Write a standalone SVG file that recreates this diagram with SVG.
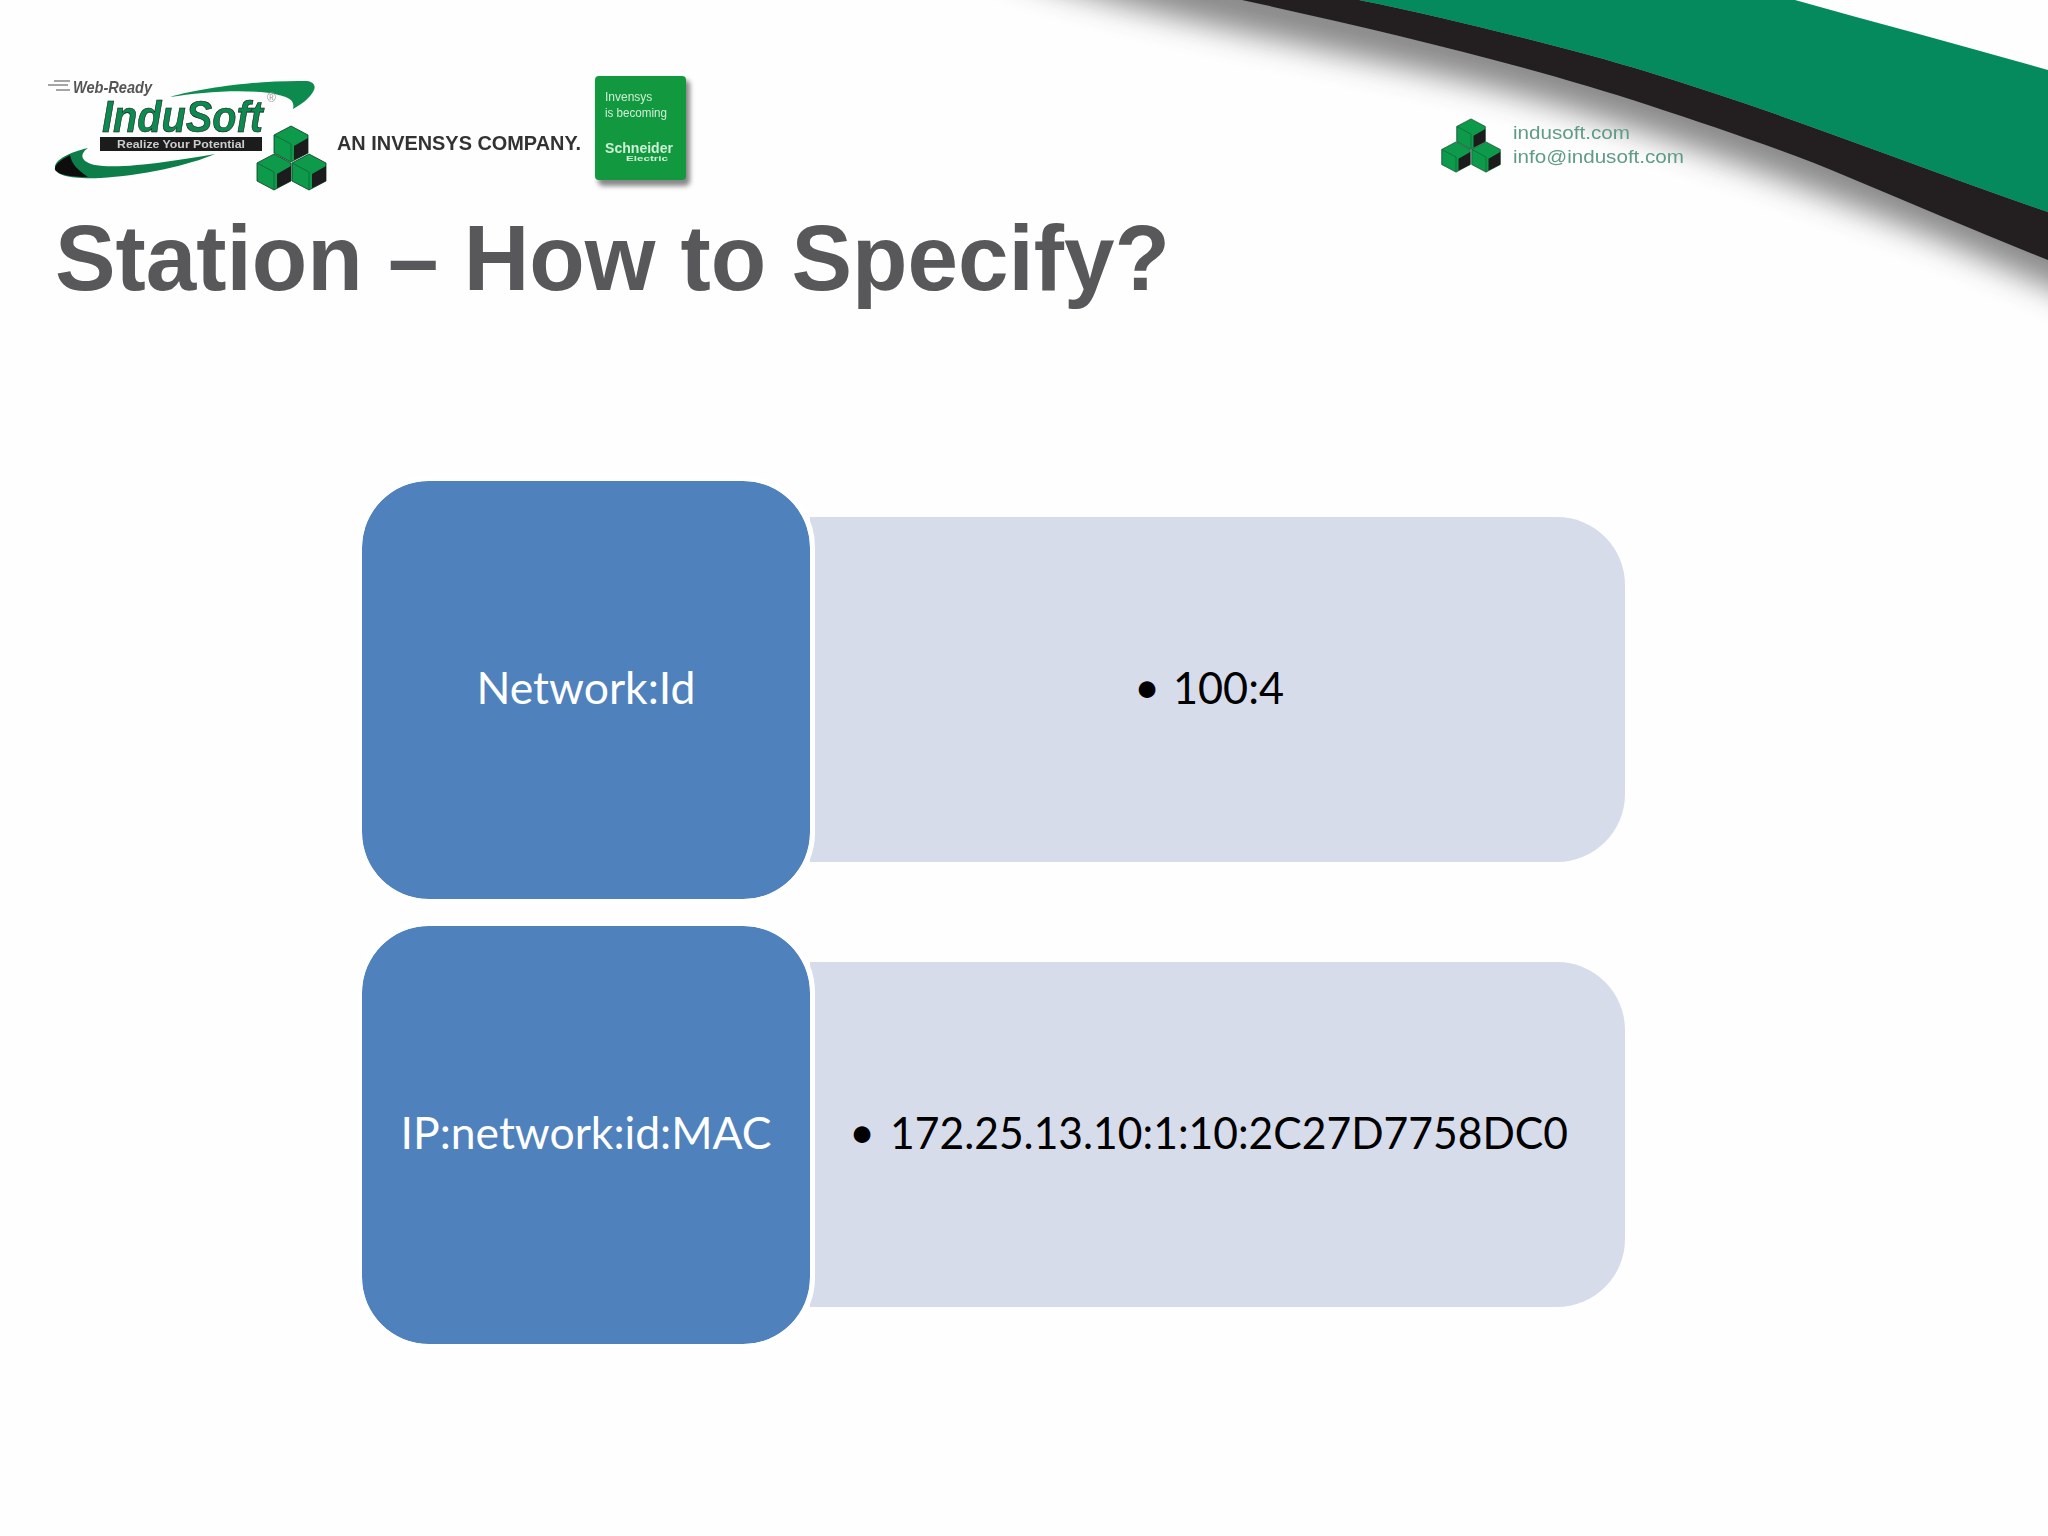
<svg xmlns="http://www.w3.org/2000/svg" width="2048" height="1536" viewBox="0 0 2048 1536">
<style>
.lbl{font-family:"Lato","Open Sans",sans-serif;font-size:45px}
.w{fill:#fff;text-anchor:middle}
.k{fill:#000}
.blue{fill:#4f81bd}
.pale{fill:#d7dcea}
.gap{fill:none;stroke:#fff;stroke-width:5}
.sans{font-family:"Liberation Sans",Arial,sans-serif}
</style>
<defs>
<filter id="sh" x="-10%" y="-30%" width="120%" height="160%"><feGaussianBlur stdDeviation="15"/></filter>
<filter id="b1" x="-5%" y="-5%" width="110%" height="110%"><feGaussianBlur stdDeviation="0.7"/></filter>
<filter id="b2" x="-10%" y="-10%" width="130%" height="130%"><feGaussianBlur stdDeviation="2.5"/></filter>
<g id="cube">
<path d="M0 -18L17 -9V9L0 18L-17 9V-9Z" fill="#0a9a4c" stroke="#0b3a22" stroke-width=".8"/>
<path d="M-17 -9L0 0V18" fill="none" stroke="#076f38" stroke-width="1"/>
<path d="M3 2L17 -6V9L3 16Z" fill="#1c1c1c"/>
</g>
</defs>
<rect width="2048" height="1536" fill="#fefefe"/>
<g id="swoosh">
<path d="M1000 -30C1150 18 1330 48 1500 90C1650 128 1800 185 1940 240L2090 305V200L1300 -60Z" fill="#444" opacity=".62" filter="url(#sh)"/>
<path d="M1242 0C1380 30 1530 66 1648 105C1720 129 1790 152 1848 177C1915 205 1980 233 2048 260V212C1920 168 1780 112 1648 72C1560 45 1420 12 1359 0Z" fill="#231f20"/>
<path d="M1359 0C1420 12 1560 45 1648 72C1780 112 1920 168 2048 212V70C1965 46 1880 24 1795 0Z" fill="#058a5e"/>
</g>
<g id="logo-indusoft" filter="url(#b1)">
<text class="sans" x="73" y="93" font-style="italic" font-weight="700" font-size="17" fill="#555" textLength="79" lengthAdjust="spacingAndGlyphs">Web-Ready</text>
<path d="M54 81H70M48 85H68M56 90H70" stroke="#888" stroke-width="1.5"/>
<path d="M170 97C200 88 260 80 307 81C313 82 316 85 314 90C310 98 302 104 293 109C295 100 290 97 270 93C240 89 200 92 170 97Z" fill="#0b8a4e"/>
<path d="M88 148C70 152 54 160 55 168C56 176 72 179 100 178C140 176 190 165 215 154C180 160 120 170 95 165C82 162 78 155 88 148Z" fill="#0b7d48"/>
<path d="M70 155C60 160 54 165 55 170C60 176 75 177 88 177C78 170 72 165 70 155Z" fill="#111"/>
<text class="sans" x="102" y="132" font-style="italic" font-weight="700" font-size="44" fill="#0d8a50" stroke="#111" stroke-width=".6" textLength="161" lengthAdjust="spacingAndGlyphs">InduSoft</text>
<rect x="100" y="137" width="162" height="14" fill="#1c1c1c"/>
<text class="sans" x="181" y="148" text-anchor="middle" font-weight="700" font-size="11" fill="#ccc" textLength="128" lengthAdjust="spacingAndGlyphs">Realize Your Potential</text>
<text class="sans" x="267" y="102" font-size="12" fill="#999">®</text>
<use href="#cube" transform="translate(291 144)"/>
<use href="#cube" transform="translate(274 172)"/>
<use href="#cube" transform="translate(309 172)"/>
</g>
<text id="invensys" class="sans" x="337" y="150" font-weight="700" font-size="19.500" fill="#333" textLength="244" lengthAdjust="spacingAndGlyphs" filter="url(#b1)">AN INVENSYS COMPANY.</text>
<g id="logo-schneider">
<rect x="598" y="80" width="92" height="106" rx="5" fill="#555" opacity=".7" filter="url(#b2)"/>
<rect x="595" y="76" width="91" height="104" rx="4" fill="#12993f"/>
<g filter="url(#b1)" class="sans" fill="#cdeed5">
<text x="605" y="101" font-size="12">Invensys</text>
<text x="605" y="117" font-size="12" textLength="62" lengthAdjust="spacingAndGlyphs">is becoming</text>
<text x="605" y="153" font-size="14" font-weight="700" textLength="68" lengthAdjust="spacingAndGlyphs">Schneider</text>
<text x="626" y="161" font-size="8" font-weight="700" textLength="42" lengthAdjust="spacingAndGlyphs">Electric</text>
</g>
</g>
<text id="title" class="sans" x="55" y="290" font-weight="700" font-size="92" fill="#58585a" textLength="1115" lengthAdjust="spacingAndGlyphs">Station – How to Specify?</text>
<g id="logo-contact">
<g filter="url(#b1)">
<use href="#cube" transform="translate(1471 134) scale(.84)"/>
<use href="#cube" transform="translate(1456 157) scale(.84)"/>
<use href="#cube" transform="translate(1486 157) scale(.84)"/>
<text class="sans" x="1513" y="139" font-size="19" fill="#5f9c85" textLength="117" lengthAdjust="spacingAndGlyphs">indusoft.com</text>
<text class="sans" x="1513" y="163" font-size="19" fill="#5f9c85" textLength="171" lengthAdjust="spacingAndGlyphs">info@indusoft.com</text>
</g>
</g>
<g id="connectors"></g>
<g id="row1-detail">
<path class="pale" d="M810 517H1557A68 68 0 0 1 1625 585V794A68 68 0 0 1 1557 862H810Z"/>
<text class="lbl k" x="1134" y="703">•</text>
<text class="lbl k" x="1173" y="704" textLength="111" lengthAdjust="spacingAndGlyphs">100:4</text>
</g>
<g id="row1-key">
<rect class="blue" x="362" y="481" width="448" height="418" rx="67"/>
<rect class="gap" x="359.500" y="478.500" width="453" height="423" rx="69"/>
<text class="lbl w" x="586" y="704" textLength="219" lengthAdjust="spacingAndGlyphs">Network:Id</text>
</g>
<g id="row2-detail">
<path class="pale" d="M810 962H1557A68 68 0 0 1 1625 1030V1239A68 68 0 0 1 1557 1307H810Z"/>
<text class="lbl k" x="849" y="1148">•</text>
<text class="lbl k" x="890" y="1149" textLength="678" lengthAdjust="spacingAndGlyphs">172.25.13.10:1:10:2C27D7758DC0</text>
</g>
<g id="row2-key">
<rect class="blue" x="362" y="926" width="448" height="418" rx="67"/>
<rect class="gap" x="359.500" y="923.500" width="453" height="423" rx="69"/>
<text class="lbl w" x="586" y="1149" textLength="371" lengthAdjust="spacingAndGlyphs">IP:network:id:MAC</text>
</g>
</svg>
